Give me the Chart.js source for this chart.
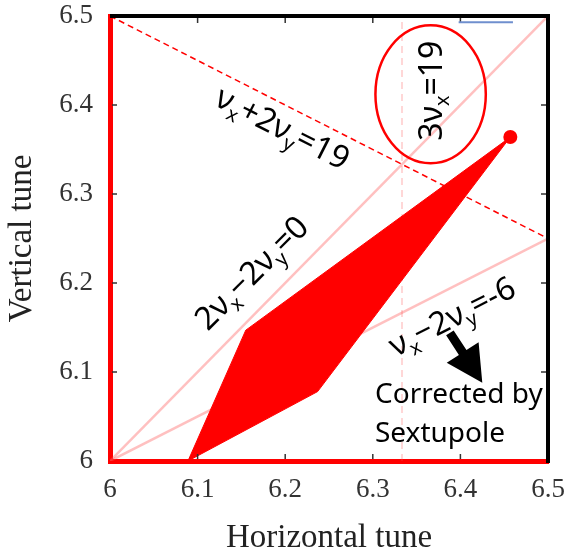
<!DOCTYPE html>
<html>
<head>
<meta charset="utf-8">
<title>Tune diagram</title>
<script src="https://cdn.jsdelivr.net/npm/chart.js@4/dist/chart.umd.min.js"></script>
<style>
  html, body { margin: 0; padding: 0; background: #fff; }
  canvas { display: block; }
</style>
</head>
<body>
<canvas id="tune-chart" width="571" height="550"></canvas>
<script>
// tick values shared by both axes
const tuneTicks = [6, 6.1, 6.2, 6.3, 6.4, 6.5];

// footprint of the tune spread (horizontal, vertical)
const islandX = [6.089, 6.155, 6.457, 6.237, 6.089];
const islandY = [6.0, 6.147, 6.364, 6.078, 6.0];

// working point at the tip
const tipX = [6.457];
const tipY = [6.364];

// resonance lines
const coupX = [6, 6.5];          // 2vx - 2vy = 0
const coupY = [6, 6.5];
const diffX = [6, 6.5];          // vx - 2vy = -6
const diffY = [6, 6.25];
const sumX = [6, 6.5];           // vx + 2vy = 19
const sumY = [6.5, 6.25];
const thirdX = [19 / 3, 19 / 3]; // 3vx = 19
const thirdY = [6, 6.5];

const pts = (xs, ys) => xs.map((x, i) => ({ x: x, y: ys[i] }));

const RED = '#ff0000';
const PINK = 'rgba(255, 80, 80, 0.36)';
const SANS = '"Noto Sans", "Open Sans", sans-serif';

// text pieces: [string, isSubscript]
const labels = [
  { x: 6.1975, y: 6.375, rot: 27, size: 32,
    parts: [['ν', 0], ['x', 1], ['+2ν', 0], ['y', 1], ['=19', 0]] },
  { x: 6.161, y: 6.212, rot: -45, size: 32,
    parts: [['2ν', 0], ['x', 1], ['−2ν', 0], ['y', 1], ['=0', 0]] },
  { x: 6.390, y: 6.163, rot: -27, size: 32,
    parts: [['ν', 0], ['x', 1], ['−2ν', 0], ['y', 1], ['=-6', 0]] },
  { x: 6.366, y: 6.416, rot: -90, size: 32,
    parts: [['3ν', 0], ['x', 1], ['=19', 0]] }
];

function drawRich(ctx, parts, cx, cy, rot, size) {
  const sub = size * 0.62;
  ctx.save();
  ctx.translate(cx, cy);
  ctx.rotate(rot * Math.PI / 180);
  let total = 0;
  parts.forEach(([t, s]) => {
    ctx.font = (s ? sub : size) + 'px ' + SANS;
    total += ctx.measureText(t).width;
  });
  let x = -total / 2;
  ctx.fillStyle = '#000';
  ctx.textBaseline = 'alphabetic';
  parts.forEach(([t, s]) => {
    ctx.font = (s ? sub : size) + 'px ' + SANS;
    ctx.fillText(t, x, size * 0.36 + (s ? size * 0.22 : 0));
    x += ctx.measureText(t).width;
  });
  ctx.restore();
}

const decorations = {
  id: 'decorations',
  afterDatasetsDraw(chart) {
    const { ctx, chartArea: a, scales: { x, y } } = chart;
    ctx.save();

    // top and right frame
    ctx.strokeStyle = '#000';
    ctx.lineWidth = 4;
    ctx.beginPath();
    ctx.moveTo(a.left, a.top);
    ctx.lineTo(a.right, a.top);
    ctx.lineTo(a.right, a.bottom + 2);
    ctx.stroke();

    // inward tick marks on all four sides
    ctx.strokeStyle = '#333';
    ctx.lineWidth = 1.5;
    ctx.beginPath();
    tuneTicks.slice(1, -1).forEach(v => {
      const px = x.getPixelForValue(v);
      const py = y.getPixelForValue(v);
      ctx.moveTo(px, a.bottom - 2); ctx.lineTo(px, a.bottom - 7);
      ctx.moveTo(px, a.top + 2); ctx.lineTo(px, a.top + 7);
      ctx.moveTo(a.left + 2, py); ctx.lineTo(a.left + 7, py);
      ctx.moveTo(a.right - 2, py); ctx.lineTo(a.right - 7, py);
    });
    ctx.stroke();

    // short blue stroke under the top frame
    ctx.strokeStyle = '#6f8fce';
    ctx.lineWidth = 2;
    ctx.beginPath();
    ctx.moveTo(x.getPixelForValue(6.398), y.getPixelForValue(6.493));
    ctx.lineTo(x.getPixelForValue(6.460), y.getPixelForValue(6.493));
    ctx.stroke();

    // ring around the third-order line label
    ctx.strokeStyle = RED;
    ctx.lineWidth = 2.5;
    ctx.beginPath();
    ctx.ellipse(x.getPixelForValue(6.366), y.getPixelForValue(6.412),
      x.getPixelForValue(6.429) - x.getPixelForValue(6.366),
      y.getPixelForValue(6.412) - y.getPixelForValue(6.4895), 0, 0, Math.PI * 2);
    ctx.stroke();

    labels.forEach(l => drawRich(ctx, l.parts,
      x.getPixelForValue(l.x), y.getPixelForValue(l.y), l.rot, l.size));

    // arrow towards the corrected footprint
    const x0 = x.getPixelForValue(6.388), y0 = y.getPixelForValue(6.144);
    const x1 = x.getPixelForValue(6.425), y1 = y.getPixelForValue(6.088);
    const ang = Math.atan2(y1 - y0, x1 - x0);
    const head = 36, half = 19, shaft = 4.5;
    const bx = x1 - head * Math.cos(ang), by = y1 - head * Math.sin(ang);
    const nx = -Math.sin(ang), ny = Math.cos(ang);
    ctx.fillStyle = '#000';
    ctx.beginPath();
    ctx.moveTo(x0 + nx * shaft, y0 + ny * shaft);
    ctx.lineTo(bx + nx * shaft, by + ny * shaft);
    ctx.lineTo(bx + nx * half, by + ny * half);
    ctx.lineTo(x1, y1);
    ctx.lineTo(bx - nx * half, by - ny * half);
    ctx.lineTo(bx - nx * shaft, by - ny * shaft);
    ctx.lineTo(x0 - nx * shaft, y0 - ny * shaft);
    ctx.closePath();
    ctx.fill();

    ctx.font = '28px ' + SANS;
    ctx.textAlign = 'left';
    ctx.textBaseline = 'alphabetic';
    ctx.fillText('Corrected by', x.getPixelForValue(6.3025), y.getPixelForValue(6.065));
    ctx.fillText('Sextupole', x.getPixelForValue(6.3025), y.getPixelForValue(6.021));

    ctx.restore();
  }
};

const SERIF = '"Liberation Serif", "Times New Roman", serif';

new Chart(document.getElementById('tune-chart'), {
  type: 'scatter',
  data: {
    datasets: [
      {
        data: pts(tipX, tipY),
        pointRadius: 7,
        pointBackgroundColor: RED,
        pointBorderWidth: 0,
        showLine: false
      },
      {
        data: pts(islandX, islandY),
        showLine: true,
        fill: 'shape',
        backgroundColor: RED,
        borderColor: RED,
        borderWidth: 1,
        pointRadius: 0,
        tension: 0
      },
      {
        data: pts(sumX, sumY),
        showLine: true,
        borderColor: RED,
        borderWidth: 1.5,
        borderDash: [6, 4],
        pointRadius: 0
      },
      {
        data: pts(coupX, coupY),
        showLine: true,
        borderColor: PINK,
        borderWidth: 2.5,
        pointRadius: 0
      },
      {
        data: pts(diffX, diffY),
        showLine: true,
        borderColor: PINK,
        borderWidth: 2.5,
        pointRadius: 0
      },
      {
        data: pts(thirdX, thirdY),
        showLine: true,
        borderColor: 'rgba(255, 80, 80, 0.3)',
        borderWidth: 1.5,
        borderDash: [7, 5],
        pointRadius: 0
      }
    ]
  },
  options: {
    responsive: false,
    animation: false,
    layout: { padding: { top: 16, right: 23, left: 0, bottom: 0 } },
    plugins: { legend: { display: false }, tooltip: { enabled: false } },
    scales: {
      x: {
        type: 'linear',
        min: 6, max: 6.5,
        afterBuildTicks: s => { s.ticks = tuneTicks.map(v => ({ value: v })); },
        afterFit: s => { s.height = 89; s.paddingLeft = 0; s.paddingRight = 0; },
        grid: { display: false, drawTicks: false },
        border: { display: true, color: RED, width: 5 },
        ticks: { color: '#333', font: { family: SERIF, size: 27 }, padding: 13,
                 maxRotation: 0, callback: v => String(v) },
        title: { display: true, text: 'Horizontal tune', color: '#222',
                 font: { family: SERIF, size: 33, lineHeight: 0.9 },
                 padding: { top: 0, bottom: -3 } }
      },
      y: {
        type: 'linear',
        min: 6, max: 6.5,
        afterBuildTicks: s => { s.ticks = tuneTicks.map(v => ({ value: v })); },
        afterFit: s => { s.width = 110; s.paddingTop = 0; s.paddingBottom = 0; },
        grid: { display: false, drawTicks: false },
        border: { display: true, color: RED, width: 5 },
        ticks: { color: '#333', font: { family: SERIF, size: 27 }, padding: 17,
                 callback: v => String(v) },
        title: { display: true, text: 'Vertical tune', color: '#222',
                 font: { family: SERIF, size: 33 },
                 padding: { top: 3, bottom: 0 } }
      }
    }
  },
  plugins: [decorations]
});
</script>
</body>
</html>
